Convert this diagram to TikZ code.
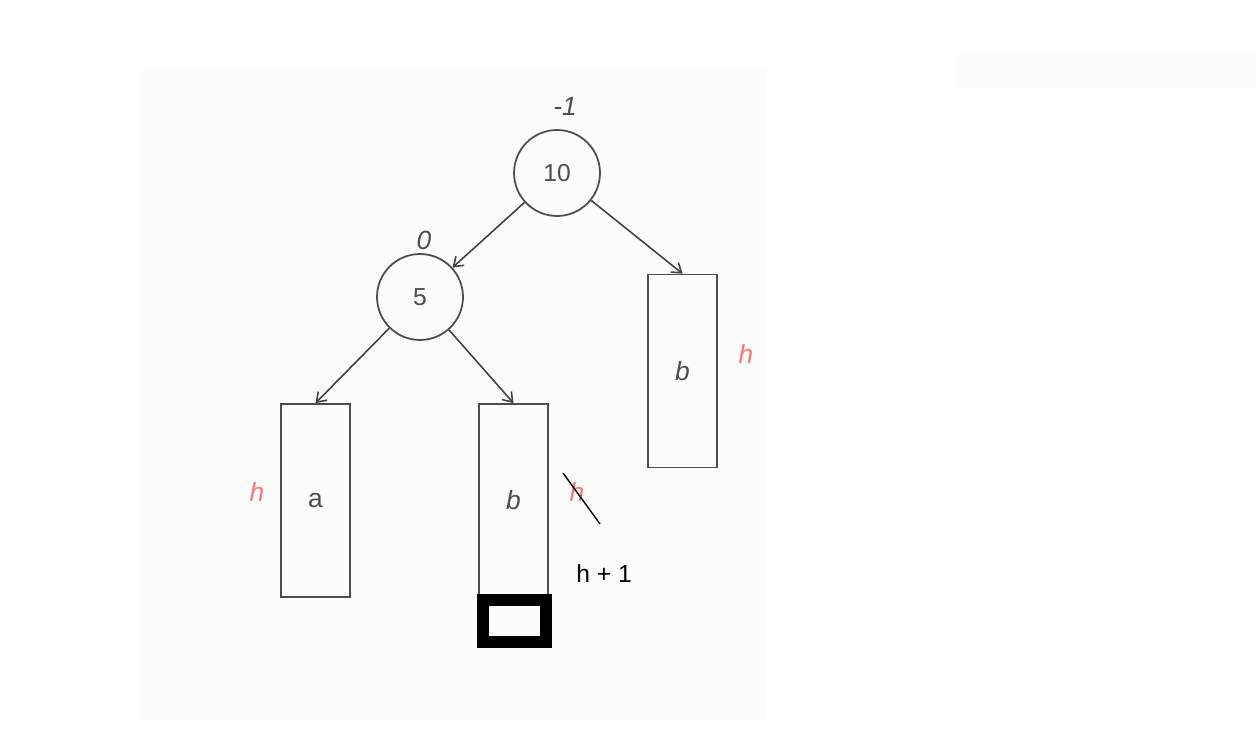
\documentclass[tikz,border=0pt]{standalone}
\usepackage{fontspec}
\setmainfont{Liberation Sans}
\usetikzlibrary{arrows.meta}
\begin{document}
\begin{tikzpicture}[x=0.02cm,y=-0.02cm,
	key/.style={circle,draw=black!70,line width=1pt,minimum size=1.72cm,inner sep=0pt,font=\fontsize{14}{16}\selectfont\color{black!70}},
	sub/.style={rectangle,draw=black!70,line width=1pt,minimum width=1.38cm,minimum height=3.86cm,inner sep=0pt,font=\fontsize{15}{17}\selectfont\itshape\color{black!70}},
	bal/.style={font=\fontsize{15}{17}\selectfont\itshape\color{black!70}},
	ht/.style={font=\fontsize{15}{17}\selectfont\itshape\color{red!55}},
	arr/.style={-{Straight Barb[length=5pt,width=7pt]},draw=black!75,line width=0.9pt}]
	\useasboundingbox (0,0) rectangle (1256,749);
	\fill[black!1] (140,70) rectangle (765,720);
	\fill[black!1] (958,55) rectangle (1256,88);
	% the tree
	\node[key] (n10) at (557,173) {10};
	\node[key] (n5) at (420,297) {5};
	\node[bal] (b10) at (565,106) {-1};
	\node[bal] (b5) at (424,240) {0};
	\node[sub] (bR) at (682.5,371) {b};
	\node[sub,font=\fontsize{15}{17}\selectfont\color{black!70}] (a) at (315.5,500.5) {a};
	\node[sub] (bM) at (513.5,500.5) {b};
	\node[ht] (hR) at (746,354) {h};
	\node[ht] (hA) at (257,492) {h};
	\node[ht] (hM) at (577,492) {h};
	\node[font=\fontsize{14}{16}\selectfont] (h1) at (604,574) {h + 1};
	\draw[arr] (n10) -- (n5);
	\draw[arr] (n10) -- (bR.north);
	\draw[arr] (n5) -- (a.north);
	\draw[arr] (n5) -- (bM.north);
	% the new level
	\coordinate (s1) at (563,473);
	\coordinate (s2) at (600,524);
	\draw[line width=0.8pt] (s1) -- (s2);
	\draw[line width=0.24cm] (483,600) rectangle (546,642);
\end{tikzpicture}
\end{document}
